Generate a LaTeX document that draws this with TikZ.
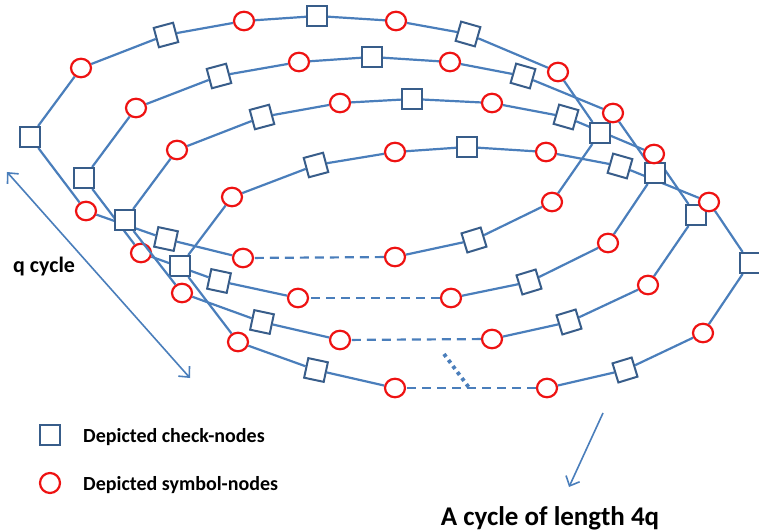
\documentclass[tikz,border=0pt]{standalone}
\usepackage{fontspec}
\setmainfont{Carlito}
\usetikzlibrary{shapes.geometric,arrows.meta,backgrounds}
\definecolor{lnblue}{RGB}{74,126,187}
\definecolor{sqblue}{RGB}{56,93,138}
\definecolor{symred}{RGB}{238,18,18}
\begin{document}
\begin{tikzpicture}[x=1bp,y=-1bp,
 chk/.style={shape=rectangle, draw=sqblue, line width=2bp, fill=white, minimum size=20bp, inner sep=0pt},
 sym/.style={ellipse, draw=symred, line width=2.2bp, fill=white, minimum width=20bp, minimum height=18.5bp, inner sep=0pt},
 link/.style={draw=lnblue, line width=2.2bp},
 gapline/.style={link, dash pattern=on 9bp off 6bp},
 dotline/.style={draw=lnblue, line width=3.8bp, dash pattern=on 3.5bp off 4bp},
 tipb/.tip={Straight Barb[length=8bp,width=15bp,line width=1.6bp]},
 pointer/.style={draw=lnblue, line width=1.6bp},
 lbl/.style={font=\bfseries\fontsize{20bp}{24bp}\selectfont, inner sep=0pt}
]
\useasboundingbox (0,0) rectangle (759,532);

% check nodes
\node[chk] (s1) at (30,137) {};
\node[chk] (s2) at (84,178) {};
\node[chk] (s3) at (125,220) {};
\node[chk] (s5) at (180,266) {};
\node[chk,rotate=15] (s9) at (166,35) {};
\node[chk,rotate=15] (s10) at (219,76) {};
\node[chk,rotate=15] (s11) at (262,117) {};
\node[chk,rotate=15] (s12) at (316,165) {};
\node[chk] (s13) at (317,16) {};
\node[chk] (s14) at (372,57) {};
\node[chk] (s15) at (412,99) {};
\node[chk] (s16) at (467,147) {};
\node[chk,rotate=-16] (s17) at (468,34) {};
\node[chk,rotate=-16] (s18) at (523,76) {};
\node[chk,rotate=-16] (s19) at (566,117) {};
\node[chk,rotate=-16] (s27) at (620,166) {};
\node[chk] (s20) at (600,133) {};
\node[chk] (s21) at (655,173) {};
\node[chk] (s22) at (696,215) {};
\node[chk] (s23) at (750,263) {};
\node[chk,rotate=17] (s24) at (474,240) {};
\node[chk,rotate=17] (s28) at (529,282) {};
\node[chk,rotate=17] (s25) at (569,322) {};
\node[chk,rotate=17] (s26) at (625,370) {};
\node[chk,rotate=-12] (s4) at (166,239) {};
\node[chk,rotate=-12] (s6) at (219,281) {};
\node[chk,rotate=-12] (s7) at (262,322) {};
\node[chk,rotate=-12] (s8) at (316,370) {};

% symbol nodes
\node[sym] (c1) at (81,68) {};
\node[sym] (c2) at (136,108) {};
\node[sym] (c3) at (177,150) {};
\node[sym] (c4) at (232,197) {};
\node[sym] (c5) at (244,21) {};
\node[sym] (c6) at (299,62) {};
\node[sym] (c7) at (340,103) {};
\node[sym] (c8) at (395,152) {};
\node[sym] (c9) at (396,21) {};
\node[sym] (c10) at (450,62) {};
\node[sym] (c11) at (492,103) {};
\node[sym] (c12) at (546,152) {};
\node[sym] (c13) at (558,72) {};
\node[sym] (c14) at (613,113) {};
\node[sym] (c15) at (654,154) {};
\node[sym] (c16) at (709,202) {};
\node[sym] (c17) at (86,211) {};
\node[sym] (c18) at (141,253) {};
\node[sym] (c19) at (182,293) {};
\node[sym] (c20) at (238,342) {};
\node[sym] (c21) at (243,258) {};
\node[sym] (c22) at (298,298) {};
\node[sym] (c23) at (340,340) {};
\node[sym] (c24) at (395,388) {};
\node[sym] (c25) at (395,257) {};
\node[sym] (c26) at (451,298) {};
\node[sym] (c27) at (492,339) {};
\node[sym] (c28) at (547,388) {};
\node[sym] (c29) at (552,202) {};
\node[sym] (c30) at (608,243) {};
\node[sym] (c31) at (648,285) {};
\node[sym] (c32) at (703,333) {};

\begin{scope}[on background layer]
% ring 1
\draw[link] (s1)--(c1)--(s9)--(c5)--(s13)--(c9)--(s17)--(c13)--(s20)--(c29)--(s24)--(c25);
\draw[gapline] (c25)--(c21);
\draw[link] (c21)--(s4)--(c17)--(s1);
% ring 2
\draw[link] (s2)--(c2)--(s10)--(c6)--(s14)--(c10)--(s18)--(c14)--(s21)--(c30)--(s28)--(c26);
\draw[gapline] (c26)--(c22);
\draw[link] (c22)--(s6)--(c18)--(s2);
% ring 3
\draw[link] (s3)--(c3)--(s11)--(c7)--(s15)--(c11)--(s19)--(c15)--(s22)--(c31)--(s25)--(c27);
\draw[gapline] (c27)--(c23);
\draw[link] (c23)--(s7)--(c19);
% ring 4
\draw[link] (s5)--(c4)--(s12)--(c8)--(s16)--(c12)--(s27)--(c16)--(s23)--(c32)--(s26)--(c28);
\draw[gapline] (c28)--(c24);
\draw[link] (c24)--(s8)--(c20)--(s5);
\end{scope}
\draw[link] (c19)--(s3);

% dotted link into the bottom gap
\coordinate (d1) at (444,354);
\coordinate (d2) at (470,389);
\draw[dotline] (d1)--(d2);

% q cycle arrow
\coordinate (qa) at (7,172);
\coordinate (qb) at (190,378);
\draw[pointer,tipb-tipb] (qa)--(qb);
\node[lbl,font=\bfseries\fontsize{22bp}{26bp}\selectfont,anchor=base west] (qtxt) at (13,273) {q cycle};

% 4q arrow
\coordinate (pa) at (603,413);
\coordinate (pb) at (569,487);
\draw[pointer,-tipb] (pa)--(pb);
\node[lbl,font=\bfseries\fontsize{27bp}{32bp}\selectfont,anchor=base] (ctxt) at (550,525) {A cycle of length 4q};

% legend
\node[chk] (lgs) at (50,435) {};
\node[sym,minimum width=20bp,minimum height=20bp] (lgc) at (50,483) {};
\node[lbl,anchor=base west] (lgst) at (83,442) {Depicted check-nodes};
\node[lbl,anchor=base west] (lgct) at (83,490) {Depicted symbol-nodes};
\end{tikzpicture}
\end{document}
